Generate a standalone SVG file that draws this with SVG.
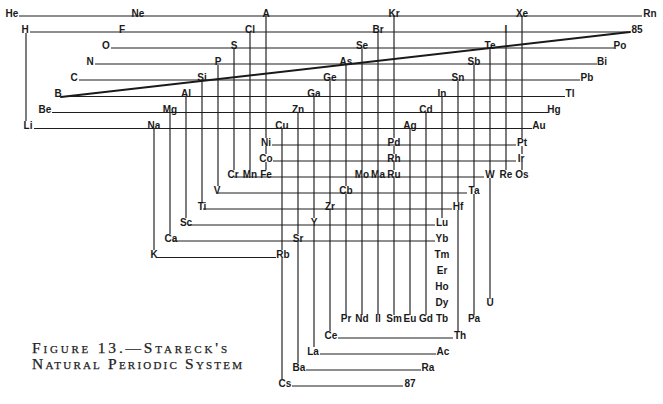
<svg xmlns="http://www.w3.org/2000/svg" width="663" height="404" viewBox="0 0 663 404">
<style>
.l{font-family:"Liberation Sans",Arial,sans-serif;font-size:10px;font-weight:bold;fill:#1a1a1a;text-anchor:middle}
.e{stroke:#1e1e1e;stroke-width:1.15;fill:none}
.d{stroke:#1a1a1a;stroke-width:2;fill:none;stroke-linecap:round}
.cap{font-family:"Liberation Serif","Times New Roman",serif;font-size:15.5px;font-variant:small-caps;fill:#222;stroke:#222;stroke-width:0.25}
</style>
<rect width="663" height="404" fill="#fff"/>
<g id="connectors">
<path class="e" d="M19 16H642M30 32H628M111 48H614M95 64H597M79 80H580M63 96.5H565M52 112.5H548M34 128.5H532M272 145H516M273 161H516M234 177H484M218 193H467M203 209H452M188 225H435M173 241H435M156 257.5H276M338 338H453M320 354H436M306 370H421M292 386H403"/>
<path class="e" d="M26 33V121M154 129V250M170 113V234M186 97V218M202 81V202M218 65V186M234 49V170M250 33V170M266 16V138M266 146V154M266 162V170M282 129V250M282 258V379M298 113V234M298 242V363M314 97V218M314 226V347M330 81V202M330 210V331M346 65V186M346 194V315M362 49V170M362 178V315M378 33V170M378 178V315M394 16V138M394 146V154M394 162V170M394 178V315M410 129V315M426 113V315M442 97V218M458 81V202M458 210V331M474 65V186M474 194V315M490 49V170M490 178V299M506 33V170M522 16V138M522 146V154M522 162V170"/>
<path class="d" d="M61 97L630 32"/>
</g>
<g id="nodes">
<g id="n-He"><text class="l" x="12" y="16.5">He</text></g>
<g id="n-Ne"><text class="l" x="138" y="16.5">Ne</text></g>
<g id="n-A"><text class="l" x="266" y="16.5">A</text></g>
<g id="n-Kr"><text class="l" x="394" y="16.5">Kr</text></g>
<g id="n-Xe"><text class="l" x="522" y="16.5">Xe</text></g>
<g id="n-Rn"><text class="l" x="650" y="16.5">Rn</text></g>
<g id="n-H"><text class="l" x="25" y="32.5">H</text></g>
<g id="n-F"><text class="l" x="122" y="32.5">F</text></g>
<g id="n-Cl"><text class="l" x="250" y="32.5">Cl</text></g>
<g id="n-Br"><text class="l" x="378" y="32.5">Br</text></g>
<g id="n-I"><text class="l" x="506" y="32.5">I</text></g>
<g id="n-85"><text class="l" x="637" y="32.5">85</text></g>
<g id="n-O"><text class="l" x="106" y="48.5">O</text></g>
<g id="n-S"><text class="l" x="234" y="48.5">S</text></g>
<g id="n-Se"><text class="l" x="362" y="48.5">Se</text></g>
<g id="n-Te"><text class="l" x="490" y="48.5">Te</text></g>
<g id="n-Po"><text class="l" x="620" y="48.5">Po</text></g>
<g id="n-N"><text class="l" x="90" y="64.5">N</text></g>
<g id="n-P"><text class="l" x="218" y="64.5">P</text></g>
<g id="n-As"><text class="l" x="346" y="64.5">As</text></g>
<g id="n-Sb"><text class="l" x="474" y="64.5">Sb</text></g>
<g id="n-Bi"><text class="l" x="602" y="64.5">Bi</text></g>
<g id="n-C"><text class="l" x="74" y="80.5">C</text></g>
<g id="n-Si"><text class="l" x="202" y="80.5">Si</text></g>
<g id="n-Ge"><text class="l" x="330" y="80.5">Ge</text></g>
<g id="n-Sn"><text class="l" x="458" y="80.5">Sn</text></g>
<g id="n-Pb"><text class="l" x="587" y="80.5">Pb</text></g>
<g id="n-B"><text class="l" x="58" y="97">B</text></g>
<g id="n-Al"><text class="l" x="186" y="97">Al</text></g>
<g id="n-Ga"><text class="l" x="314" y="97">Ga</text></g>
<g id="n-In"><text class="l" x="442" y="97">In</text></g>
<g id="n-Tl"><text class="l" x="570" y="97">Tl</text></g>
<g id="n-Be"><text class="l" x="45" y="113">Be</text></g>
<g id="n-Mg"><text class="l" x="170" y="113">Mg</text></g>
<g id="n-Zn"><text class="l" x="298" y="113">Zn</text></g>
<g id="n-Cd"><text class="l" x="426" y="113">Cd</text></g>
<g id="n-Hg"><text class="l" x="554" y="113">Hg</text></g>
<g id="n-Li"><text class="l" x="28" y="129">Li</text></g>
<g id="n-Na"><text class="l" x="154" y="129">Na</text></g>
<g id="n-Cu"><text class="l" x="282" y="129">Cu</text></g>
<g id="n-Ag"><text class="l" x="410" y="129">Ag</text></g>
<g id="n-Au"><text class="l" x="539" y="129">Au</text></g>
<g id="n-Ni"><text class="l" x="266" y="145.5">Ni</text></g>
<g id="n-Pd"><text class="l" x="394" y="145.5">Pd</text></g>
<g id="n-Pt"><text class="l" x="522" y="145.5">Pt</text></g>
<g id="n-Co"><text class="l" x="266" y="161.5">Co</text></g>
<g id="n-Rh"><text class="l" x="394" y="161.5">Rh</text></g>
<g id="n-Ir"><text class="l" x="521" y="161.5">Ir</text></g>
<g id="n-Cr"><text class="l" x="233" y="177.5">Cr</text></g>
<g id="n-Mn"><text class="l" x="250" y="177.5">Mn</text></g>
<g id="n-Fe"><text class="l" x="266" y="177.5">Fe</text></g>
<g id="n-Mo"><text class="l" x="362" y="177.5">Mo</text></g>
<g id="n-Ma"><text class="l" x="378" y="177.5">Ma</text></g>
<g id="n-Ru"><text class="l" x="394" y="177.5">Ru</text></g>
<g id="n-W"><text class="l" x="490" y="177.5">W</text></g>
<g id="n-Re"><text class="l" x="506" y="177.5">Re</text></g>
<g id="n-Os"><text class="l" x="522" y="177.5">Os</text></g>
<g id="n-V"><text class="l" x="217" y="193.5">V</text></g>
<g id="n-Cb"><text class="l" x="346" y="193.5">Cb</text></g>
<g id="n-Ta"><text class="l" x="474" y="193.5">Ta</text></g>
<g id="n-Ti"><text class="l" x="202" y="209.5">Ti</text></g>
<g id="n-Zr"><text class="l" x="330" y="209.5">Zr</text></g>
<g id="n-Hf"><text class="l" x="458" y="209.5">Hf</text></g>
<g id="n-Sc"><text class="l" x="186" y="225.5">Sc</text></g>
<g id="n-Y"><text class="l" x="314" y="225.5">Y</text></g>
<g id="n-Lu"><text class="l" x="442" y="225.5">Lu</text></g>
<g id="n-Ca"><text class="l" x="171" y="241.5">Ca</text></g>
<g id="n-Sr"><text class="l" x="298" y="241.5">Sr</text></g>
<g id="n-Yb"><text class="l" x="442" y="241.5">Yb</text></g>
<g id="n-K"><text class="l" x="154" y="258">K</text></g>
<g id="n-Rb"><text class="l" x="283" y="258">Rb</text></g>
<g id="n-Tm"><text class="l" x="442" y="258">Tm</text></g>
<g id="n-Er"><text class="l" x="442" y="274">Er</text></g>
<g id="n-Ho"><text class="l" x="442" y="290">Ho</text></g>
<g id="n-Dy"><text class="l" x="442" y="306">Dy</text></g>
<g id="n-U"><text class="l" x="490" y="306">U</text></g>
<g id="n-Pr"><text class="l" x="346" y="322">Pr</text></g>
<g id="n-Nd"><text class="l" x="362" y="322">Nd</text></g>
<g id="n-Il"><text class="l" x="378" y="322">Il</text></g>
<g id="n-Sm"><text class="l" x="394" y="322">Sm</text></g>
<g id="n-Eu"><text class="l" x="410" y="322">Eu</text></g>
<g id="n-Gd"><text class="l" x="426" y="322">Gd</text></g>
<g id="n-Tb"><text class="l" x="442" y="322">Tb</text></g>
<g id="n-Pa"><text class="l" x="474" y="322">Pa</text></g>
<g id="n-Ce"><text class="l" x="331" y="338.5">Ce</text></g>
<g id="n-Th"><text class="l" x="460" y="338.5">Th</text></g>
<g id="n-La"><text class="l" x="313" y="354.5">La</text></g>
<g id="n-Ac"><text class="l" x="443" y="354.5">Ac</text></g>
<g id="n-Ba"><text class="l" x="299" y="370.5">Ba</text></g>
<g id="n-Ra"><text class="l" x="428" y="370.5">Ra</text></g>
<g id="n-Cs"><text class="l" x="285" y="386.5">Cs</text></g>
<g id="n-87"><text class="l" x="410" y="386.5">87</text></g>
</g>
<g id="caption">
<text class="cap" x="32" y="353" textLength="195" lengthAdjust="spacing">Figure 13.—Stareck's</text>
<text class="cap" x="32" y="369" textLength="210" lengthAdjust="spacing">Natural Periodic System</text>
</g>
</svg>
